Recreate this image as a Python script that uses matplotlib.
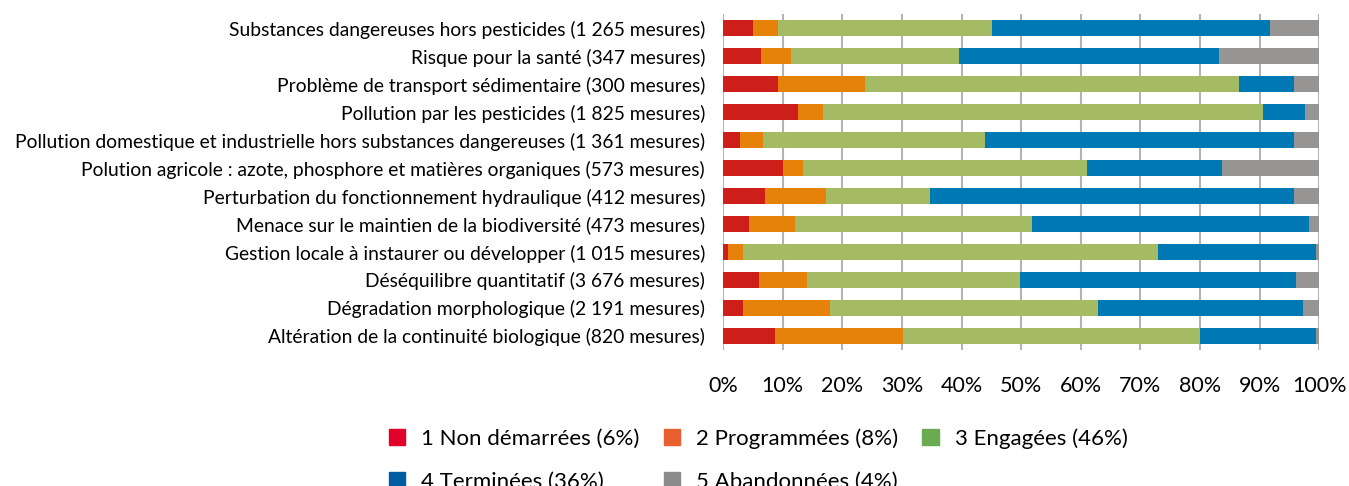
import matplotlib.pyplot as plt
import matplotlib.patches as mpatches
import numpy as np

plt.rcParams['font.family'] = ['Lato', 'DejaVu Sans']

# Types of pressure, bottom to top as drawn
categories = [
    'Altération de la continuité biologique (820 mesures)',
    'Dégradation morphologique (2 191 mesures)',
    'Déséquilibre quantitatif (3 676 mesures)',
    'Gestion locale à instaurer ou développer (1 015 mesures)',
    'Menace sur le maintien de la biodiversité (473 mesures)',
    'Perturbation du fonctionnement hydraulique (412 mesures)',
    'Polution agricole : azote, phosphore et matières organiques (573 mesures)',
    'Pollution domestique et industrielle hors substances dangereuses (1 361 mesures)',
    'Pollution par les pesticides (1 825 mesures)',
    'Problème de transport sédimentaire (300 mesures)',
    'Risque pour la santé (347 mesures)',
    'Substances dangereuses hors pesticides (1 265 mesures)',
]

# Share of measures (%) per status
non_demarrees = [8.7, 3.3, 6.0, 0.8, 4.3, 7.0, 10.0, 2.8, 12.5, 9.2, 6.3, 5.0]
programmees = [21.5, 14.7, 8.1, 2.5, 7.7, 10.2, 3.4, 3.9, 4.2, 14.6, 5.1, 4.2]
engagees = [49.8, 44.9, 35.7, 69.7, 39.8, 17.5, 47.7, 37.2, 73.9, 62.8, 28.2, 35.9]
terminees = [19.4, 34.4, 46.3, 26.4, 46.5, 61.1, 22.5, 51.9, 7.0, 9.2, 43.6, 46.7]
abandonnees = [0.6, 2.7, 3.9, 0.6, 1.7, 4.2, 16.4, 4.2, 2.4, 4.2, 16.8, 8.2]

series = [non_demarrees, programmees, engagees, terminees, abandonnees]
legend_labels = ['1 Non démarrées (6%)', '2 Programmées (8%)', '3 Engagées (46%)',
                 '4 Terminées (36%)', '5 Abandonnées (4%)']
bar_colors = ['#cc1f1a', '#e6820a', '#a4bb63', '#0078b4', '#969594']
legend_colors = ['#e0002a', '#e86030', '#6aaa50', '#005ba0', '#8c8b89']

fig = plt.figure(figsize=(13.49, 4.86), dpi=100)
ax = fig.add_axes([0.536, 0.280, 0.442, 0.691])

y = np.arange(len(categories))
left = np.zeros(len(categories))
for vals, col in zip(series, bar_colors):
    vals = np.array(vals)
    ax.barh(y, vals, left=left, height=0.57, color=col, zorder=3)
    left += vals

ax.set_xlim(0, 100)
ax.set_ylim(-0.5, len(categories) - 0.5)
ax.set_xticks(np.arange(0, 101, 10))
ax.set_xticklabels([f'{v}%' for v in range(0, 101, 10)])
ax.set_yticks(y)
ax.set_yticklabels(categories)
ax.tick_params(axis='y', length=0, pad=13, labelsize=13.9)
ax.tick_params(axis='x', length=0, pad=19, labelsize=15.5)
ax.grid(axis='x', color='#b4b4b4', linewidth=1.5, zorder=0)
for s in ax.spines.values():
    s.set_visible(False)

handles = [mpatches.Patch(color=c, label=l) for c, l in zip(legend_colors, legend_labels)]
order = [0, 3, 1, 4, 2]
fig.legend([handles[i] for i in order], [legend_labels[i] for i in order],
           loc='upper left', bbox_to_anchor=(0.288, 0.119), ncol=3, frameon=False,
           fontsize=16, handlelength=0.75, handleheight=0.75, handletextpad=0.7,
           columnspacing=1.1, labelspacing=1.05, borderaxespad=0, borderpad=0)

fig.savefig('out.png', dpi=100)
